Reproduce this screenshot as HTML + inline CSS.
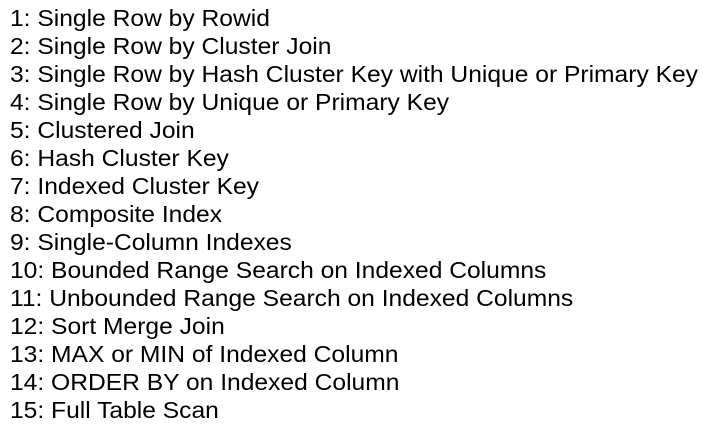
<!DOCTYPE html>
<html><head><meta charset="utf-8"><style>
html,body{margin:0;padding:0;background:#fff;width:702px;height:425px;overflow:hidden}
.t{position:absolute;left:10px;top:4px;font-family:"Liberation Sans","Noto Sans CJK SC",sans-serif;font-size:23px;line-height:28px;color:#000;white-space:nowrap;transform:scaleX(1.07);transform-origin:0 0}
</style></head><body><div class="t">
1: Single Row by Rowid<br>
2: Single Row by Cluster Join<br>
3: Single Row by Hash Cluster Key with Unique or Primary Key<br>
4: Single Row by Unique or Primary Key<br>
5: Clustered Join<br>
6: Hash Cluster Key<br>
7: Indexed Cluster Key<br>
8: Composite Index<br>
9: Single-Column Indexes<br>
10: Bounded Range Search on Indexed Columns<br>
11: Unbounded Range Search on Indexed Columns<br>
12: Sort Merge Join<br>
13: MAX or MIN of Indexed Column<br>
14: ORDER BY on Indexed Column<br>
15: Full Table Scan
</div></body></html>
